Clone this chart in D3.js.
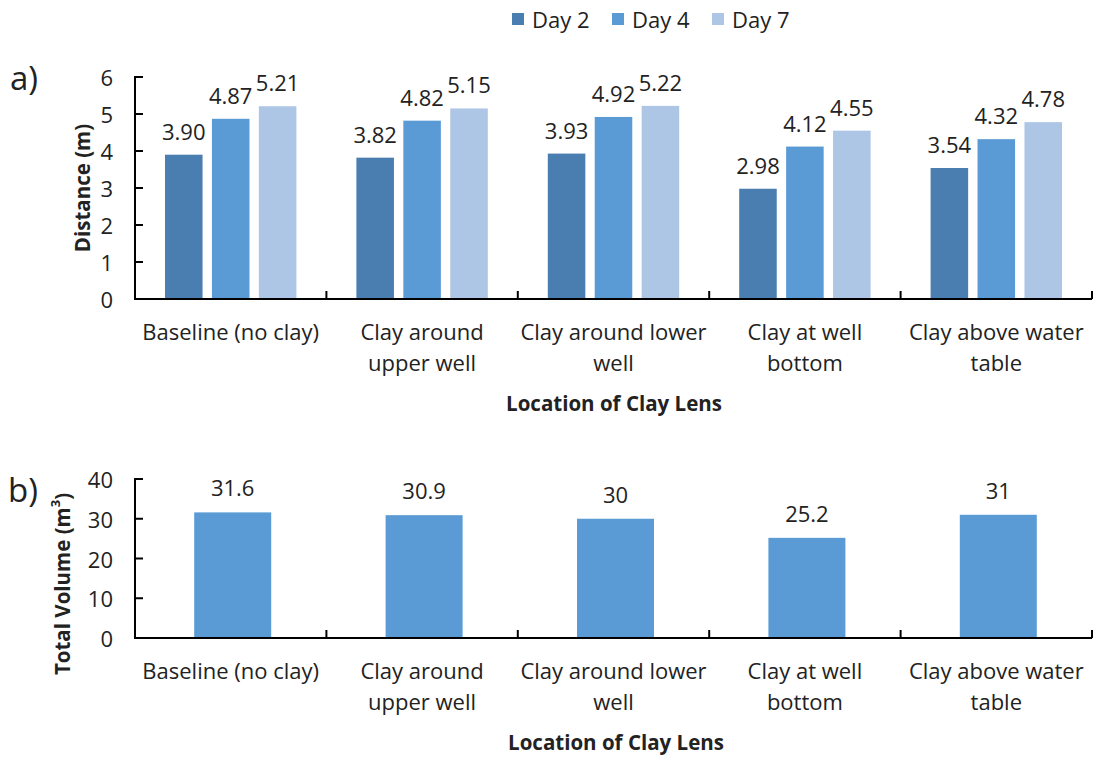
<!DOCTYPE html>
<html>
<head>
<meta charset="utf-8">
<script src="https://cdn.jsdelivr.net/npm/d3@7"></script>
<style>
  html, body { margin: 0; padding: 0; background: #fff; }
  svg { display: block; }
  text { font-family: "Open Sans", Carlito, Calibri, sans-serif; fill: #222; }
</style>
</head>
<body>
<svg id="chart" width="1093" height="757"></svg>
<script>
// Clay-lens locations (two-line category labels)
const categories = [
  ["Baseline (no clay)"],
  ["Clay around", "upper well"],
  ["Clay around lower", "well"],
  ["Clay at well", "bottom"],
  ["Clay above water", "table"]
];
const seriesNames = ["Day 2", "Day 4", "Day 7"];
const seriesColors = ["#4a7db0", "#5b9bd5", "#adc6e6"];
const day2 = [3.90, 3.82, 3.93, 2.98, 3.54];
const day4 = [4.87, 4.82, 4.92, 4.12, 4.32];
const day7 = [5.21, 5.15, 5.22, 4.55, 4.78];
const distanceTicks = [0, 1, 2, 3, 4, 5, 6];
const totalVolume = [31.6, 30.9, 30, 25.2, 31];
const volumeTicks = [0, 10, 20, 30, 40];

const svg = d3.select("#chart");
const keys = d3.range(categories.length);
const left = 135, right = 1092;
const FS = "22px", TITLE_FS = "20.5px";

function drawAxes(g, x, y, ticks, x0) {
  // category boundary ticks pointing up into the plot
  const bounds = keys.map(i => x(i)).concat([right]);
  g.selectAll(".xt").data(bounds).join("line")
    .attr("x1", d => d).attr("x2", d => d)
    .attr("y1", y(0)).attr("y2", y(0) - 8)
    .attr("stroke", "#000").attr("stroke-width", 2);
  // value ticks pointing right into the plot
  g.selectAll(".yt").data(ticks).join("line")
    .attr("x1", x0).attr("x2", x0 + 8)
    .attr("y1", d => y(d)).attr("y2", d => y(d))
    .attr("stroke", "#000").attr("stroke-width", 2);
  g.selectAll(".yl").data(ticks).join("text")
    .attr("x", x0 - 22).attr("y", d => y(d))
    .attr("text-anchor", "end").attr("dominant-baseline", "central")
    .style("font-size", FS).text(d => d);
  g.append("line").attr("x1", x0).attr("x2", x0)
    .attr("y1", y(ticks[ticks.length - 1]) - 1).attr("y2", y(0) + 1)
    .attr("stroke", "#000").attr("stroke-width", 2);
  g.append("line").attr("x1", x0).attr("x2", right)
    .attr("y1", y(0)).attr("y2", y(0))
    .attr("stroke", "#000").attr("stroke-width", 2);
}

function drawCategoryLabels(g, x, yLine1) {
  keys.forEach(i => {
    const t = g.append("text")
      .attr("x", x(i) + x.bandwidth() / 2)
      .attr("text-anchor", "middle").style("font-size", FS);
    categories[i].forEach((line, j) => {
      t.append("tspan").attr("x", x(i) + x.bandwidth() / 2)
        .attr("y", yLine1 + j * 31).text(line);
    });
  });
}

// ---- a) Distance per day ----
{
  const g = svg.append("g");
  const x = d3.scaleBand().domain(keys).range([left, right]);
  const y = d3.scaleLinear().domain([0, 6]).range([299, 77]);
  const series = [day2, day4, day7];
  const inner = d3.scaleBand().domain(d3.range(3))
    .range([30, x.bandwidth() - 30]).paddingInner(0.2);

  series.forEach((vals, s) => {
    g.selectAll(".bar" + s).data(vals).join("rect")
      .attr("x", (d, i) => x(i) + inner(s))
      .attr("width", inner.bandwidth())
      .attr("y", d => y(d))
      .attr("height", d => y(0) - y(d))
      .attr("fill", seriesColors[s]);
    g.selectAll(".lab" + s).data(vals).join("text")
      .attr("x", (d, i) => x(i) + inner(s) + inner.bandwidth() / 2)
      .attr("y", d => y(d) - 24)
      .attr("text-anchor", "middle").attr("dominant-baseline", "central")
      .style("font-size", FS)
      .text(d => d.toFixed(2));
  });
  drawAxes(g, x, y, distanceTicks, left);
  drawCategoryLabels(g, x, 340);

  g.append("text").attr("x", 614).attr("y", 411).attr("text-anchor", "middle")
    .style("font-size", TITLE_FS).style("font-weight", "bold").text("Location of Clay Lens");
  g.append("text").attr("transform", "translate(82,188) rotate(-90)")
    .attr("text-anchor", "middle").attr("dominant-baseline", "central")
    .style("font-size", TITLE_FS).style("font-weight", "bold").text("Distance (m)");
  g.append("text").attr("x", 10).attr("y", 90).style("font-size", "33px").text("a)");

  // legend
  const lx = [512, 612, 712];
  seriesNames.forEach((n, s) => {
    g.append("rect").attr("x", lx[s]).attr("y", 13).attr("width", 12).attr("height", 12)
      .attr("fill", seriesColors[s]);
    g.append("text").attr("x", lx[s] + 20).attr("y", 19)
      .attr("dominant-baseline", "central").style("font-size", FS).text(n);
  });
}

// ---- b) Total volume ----
{
  const g = svg.append("g");
  const x = d3.scaleBand().domain(keys).range([left, right]);
  const y = d3.scaleLinear().domain([0, 40]).range([638, 479]);
  const barW = 77;
  g.selectAll(".vbar").data(totalVolume).join("rect")
    .attr("x", (d, i) => x(i) + x.bandwidth() / 2 - barW / 2 + 2)
    .attr("width", barW)
    .attr("y", d => y(d))
    .attr("height", d => y(0) - y(d))
    .attr("fill", seriesColors[1]);
  g.selectAll(".vlab").data(totalVolume).join("text")
    .attr("x", (d, i) => x(i) + x.bandwidth() / 2 + 2)
    .attr("y", d => y(d) - 25)
    .attr("text-anchor", "middle").attr("dominant-baseline", "central")
    .style("font-size", FS).text(d => d);
  drawAxes(g, x, y, volumeTicks, left);
  drawCategoryLabels(g, x, 679);

  g.append("text").attr("x", 616).attr("y", 750).attr("text-anchor", "middle")
    .style("font-size", TITLE_FS).style("font-weight", "bold").text("Location of Clay Lens");
  const vt = g.append("text").attr("transform", "translate(62,584) rotate(-90)")
    .attr("text-anchor", "middle").attr("dominant-baseline", "central")
    .style("font-size", TITLE_FS).style("font-weight", "bold");
  vt.append("tspan").text("Total Volume (m");
  vt.append("tspan").attr("dy", -7).style("font-size", "13px").text("3");
  vt.append("tspan").attr("dy", 7).text(")");
  g.append("text").attr("x", 8).attr("y", 502).style("font-size", "33px").text("b)");
}
</script>
</body>
</html>
